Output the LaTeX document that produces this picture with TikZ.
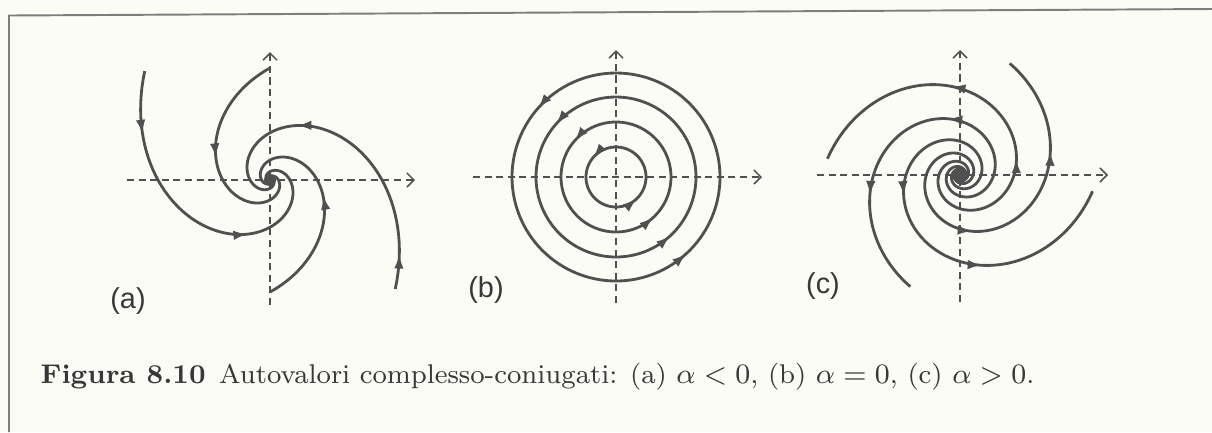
\documentclass[tikz,border=0pt]{standalone}
\usepackage{amsmath}
\usepackage{fontspec}
\newfontfamily\lblfont{Liberation Sans}
\usetikzlibrary{arrows.meta,decorations.markings}
\definecolor{bgcream}{RGB}{252,252,246}
\definecolor{curvegray}{RGB}{80,80,80}
\definecolor{framegray}{RGB}{125,125,125}
\newcommand{\rsink}[1]{112*exp(-0.55*((#1)-180)/57.2958)}
\newcommand{\rsource}[1]{86.5*exp(0.3*(#1)/57.2958)}
\begin{document}
\begin{tikzpicture}[
x=0.01cm, y=0.01cm,
axis/.style={draw=curvegray, line width=0.45pt, dash pattern=on 2pt off 1.3pt, -{Straight Barb[length=2pt,width=4pt]}},
orbit/.style={draw=curvegray, line width=0.8pt},
midtip/.style={color=curvegray, postaction={decorate}, decoration={markings, mark=at position 0.5 with {\arrow{Latex[length=3.8pt,width=2.7pt]}}}},
panel/.style={font=\fontsize{8.2}{9.8}\selectfont\lblfont, text=black!78},
caption/.style={font=\fontsize{7.7}{9.2}\selectfont, text=black!78, anchor=base west, inner sep=0pt}
]
\useasboundingbox (0,0) rectangle (1212,432);
\fill[bgcream] (0,0) rectangle (1212,432);
\draw[framegray, line width=0.55pt] (9,0) -- (9,416.5) -- (1212,423);

% (a)
\begin{scope}[shift={(270,252)}]
\draw[axis] (-143,0) -- (145,0);
\draw[axis] (0,-125) -- (0,128);
\foreach \rot/\ts in {0/139, 180/139, -90/180, 90/180}
  \draw[orbit] plot[domain=\ts:600, samples=180, variable=\t] ({(\t)+(\rot)}:{\rsink{\t}});
\foreach \rot/\ta in {0/160, 0/247, 180/150, 180/243, -90/247, 90/253}
  \path[midtip] plot[domain=\ta-6:\ta+6, samples=7, variable=\t] ({(\t)+(\rot)}:{\rsink{\t}});
\fill[curvegray] (0,0) circle[radius=6];
\end{scope}
\node[panel] (la) at (128,131) {(a)};

% (b)
\begin{scope}[shift={(616,255)}]
\draw[axis] (-143,0) -- (146,0);
\draw[axis] (0,-126) -- (0,127);
\foreach \r in {30,55,80,104} {
  \draw[orbit] plot[domain=0:360, samples=121, variable=\t] (\t:\r) -- cycle;
  \path[midtip] plot[domain=130:146, samples=7, variable=\t] (\t:\r);
  \path[midtip] plot[domain=-56:-40, samples=7, variable=\t] (\t:\r);
}
\end{scope}
\node[panel] (lb) at (486,142) {(b)};

% (c)
\begin{scope}[shift={(960,257)}]
\draw[axis] (-143,0) -- (148,0);
\draw[axis] (0,-127) -- (0,125);
\foreach \n/\ts/\te in {0/-650/66, 90/-560/173, 180/-470/246, 270/-380/353}
  \draw[orbit] plot[domain=\ts:\te, samples=260, variable=\t] (\t:{\rsource{\t-\n}});
\foreach \n/\ta in {0/-79, 0/14, 90/15, 90/95, 180/101, 180/192, 270/199, 270/283}
  \path[midtip] plot[domain=\ta-6:\ta+6, samples=7, variable=\t] (\t:{\rsource{\t-\n}});
\fill[curvegray] (0,0) circle[radius=8];
\end{scope}
\node[panel] (lc) at (823,146) {(c)};

\node[caption] (cap) at (40,49) {\textbf{Figura 8.10}\enspace Autovalori complesso-coniugati: (a) $\alpha<0$, (b) $\alpha=0$, (c) $\alpha>0$.};
\end{tikzpicture}
\end{document}
